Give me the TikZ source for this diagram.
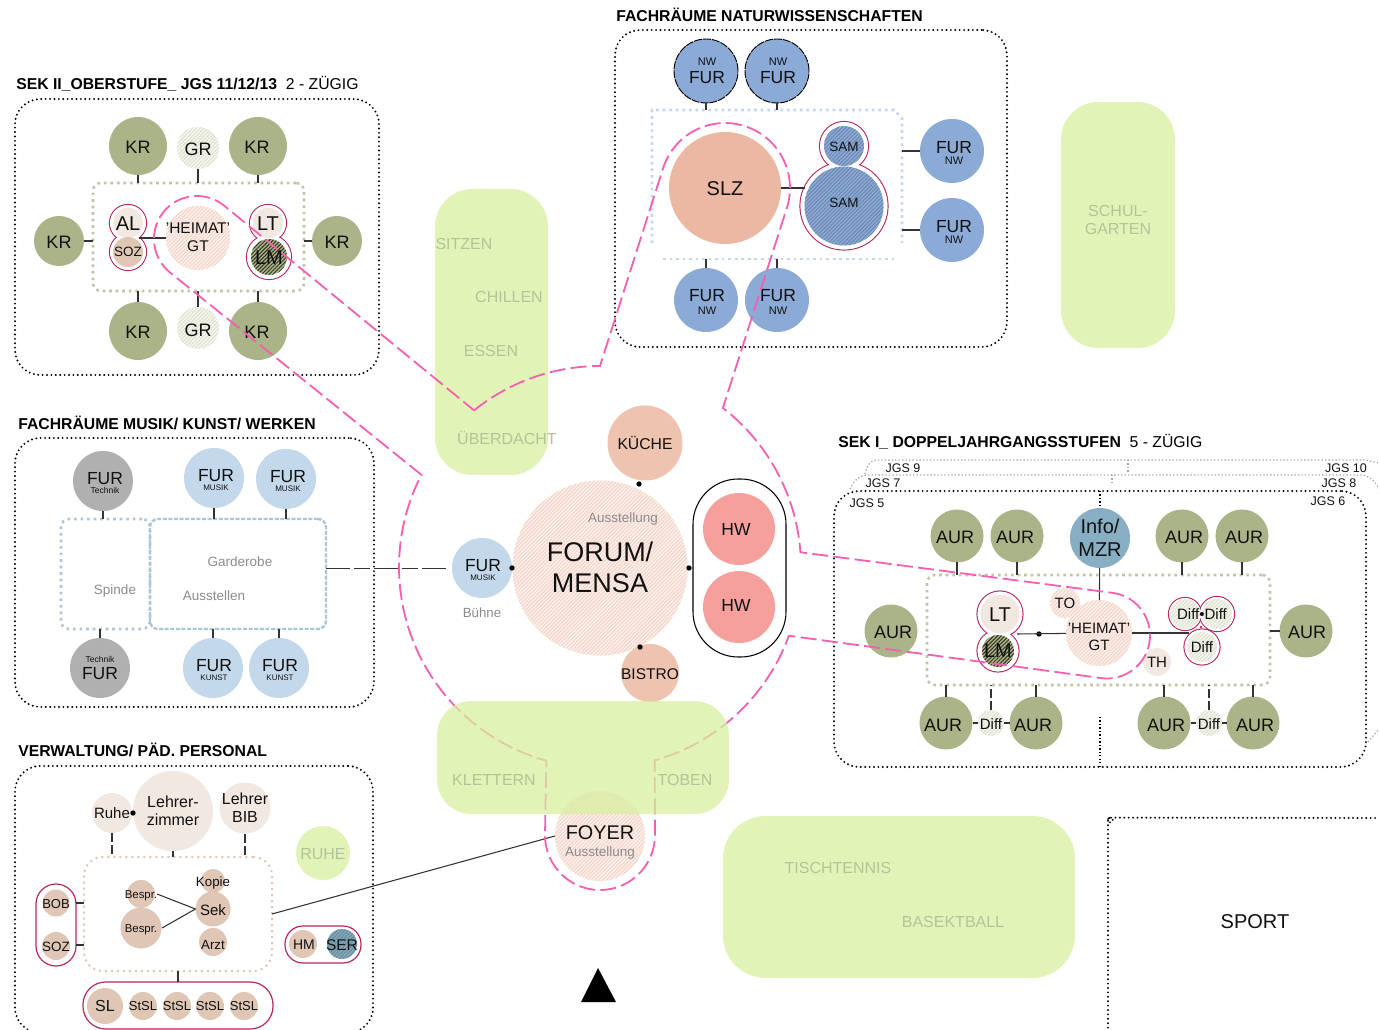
\documentclass[tikz,border=0pt]{standalone}
\usepackage{fontspec}
\setmainfont{Liberation Sans}
\usetikzlibrary{patterns.meta,fit}
\definecolor{olive}{HTML}{ABB388}
\definecolor{inbox}{HTML}{BFC5A5}
\definecolor{nwblue}{HTML}{8BAAD6}
\definecolor{ltblue}{HTML}{C3D8EA}
\definecolor{greyroom}{HTML}{B0B0B0}
\definecolor{salmon}{HTML}{EAB8A3}
\definecolor{kueche}{HTML}{EEC3AF}
\definecolor{hwred}{HTML}{F6A09E}
\definecolor{infoblue}{HTML}{88AEC4}
\definecolor{beige}{HTML}{F1E8E2}
\definecolor{tan}{HTML}{DFC6B5}
\definecolor{grn}{HTML}{E2F3B8}
\definecolor{grnb}{HTML}{D8EFA0}
\definecolor{grntxt}{HTML}{B4C49A}
\definecolor{pinkl}{HTML}{F45FB0}
\definecolor{crim}{HTML}{B8285F}
\definecolor{dottxt}{HTML}{8C8C8C}
\definecolor{ink}{HTML}{111111}
\definecolor{hfa}{HTML}{FBF0EB}\definecolor{hfb}{HTML}{F4D3C6}
\definecolor{hga}{HTML}{F5F6EE}\definecolor{hgb}{HTML}{DDE1CE}
\definecolor{hla}{HTML}{ABB388}\definecolor{hlb}{HTML}{2E3320}
\definecolor{hsa}{HTML}{8BAAD6}\definecolor{hsb}{HTML}{6D88AF}
\definecolor{hra}{HTML}{85A8B8}\definecolor{hrb}{HTML}{6A8C9E}
\definecolor{nwdot}{HTML}{C5D5F5}
\newcommand{\fz}[1]{\pgfmathsetlengthmacro\fzs{#1*0.75pt}\pgfmathsetlengthmacro\fzb{#1*0.75pt*1.15}\fontsize{\fzs}{\fzb}\selectfont}
% room: name,x,y,r,style,tx,ty,size,text
\newcommand{\R}[9]{%
  \node[roomc,#5,minimum size=#4*1.5pt] (#1) at (#2,#3) {};
  \node[lbl,font=\fz{#8}] (#1-t) at (#6,#7) {#9};}
% box: name,x1,y1,x2,y2,style
\newcommand{\bx}[6]{%
  \coordinate (#1-a) at (#2,#3);\coordinate (#1-b) at (#4,#5);
  \node[fit=(#1-a)(#1-b),inner sep=0pt,outer sep=0pt,rectangle,#6] (#1) {};}
% text: name,x,y,size,style,text
\newcommand{\T}[6]{\node[lbl,font=\fz{#4},#5] (#1) at (#2,#3) {#6};}
\newcommand{\halo}[3]{\draw[crim,line width=0.9pt] (#1,#2) circle[radius=#3*0.75pt];}
\newcommand{\hole}[3]{\fill[white] (#1,#2) circle[radius=#3*0.75pt-0.4pt];}
\newcommand{\dotn}[3]{\node[circle,fill=black,inner sep=0pt,minimum size=4pt] (#1) at (#2,#3) {};}
\tikzset{
  roomc/.style={circle,inner sep=0pt,outer sep=0pt},
  lbl/.style={inner sep=0pt,align=center,text=ink},
  hatchlines/.style 2 args={preaction={fill=#1},pattern={Lines[angle=45,distance=2pt,line width=0.75pt]},pattern color=#2},
  hforum/.style={hatchlines={hfa}{hfb}},
  hgr/.style={hatchlines={hga}{hgb}},
  hlm/.style={hatchlines={hla}{hlb}},
  hsam/.style={hatchlines={hsa}{hsb}},
  hser/.style={hatchlines={hra}{hrb}},
  outerb/.style={draw=black,line width=1.6pt,dash pattern=on 0pt off 3.3pt,line cap=round,rounded corners=19pt},
  inb/.style={line width=1.9pt,dash pattern=on 2pt off 2.9pt,rounded corners=6pt},
  conn/.style={draw=black!80,line width=0.8pt},
  longdash/.style={dash pattern=on 7pt off 2pt},
  capsule/.style={draw=crim,line width=0.9pt},
  greentxt/.style={text=grntxt},
  greytxt/.style={text=dottxt},
  titletxt/.style={anchor=west,text=black},
  jgs/.style={draw=black!35,line width=0.9pt,dash pattern=on 1pt off 1.6pt},
  pinkdash/.style={draw=pinkl,line width=1.35pt,dash pattern=on 12pt off 4pt},
}
\begin{document}
\begin{tikzpicture}[x=0.75pt,y=-0.75pt]
\clip (0,0) rectangle (1379,1030);
\fill[white] (0,0) rectangle (1379,1030);
% green areas under everything
\bx{gtall}{435}{189}{548}{475}{fill=grn,rounded corners=28pt}
\bx{gschul}{1061}{102}{1175}{348}{fill=grn,rounded corners=28pt}
\bx{gtisch}{723}{816}{1075}{978}{fill=grn,rounded corners=32pt}
\T{tsitzen}{464}{244}{16}{greentxt}{SITZEN}
\T{tchillen}{509}{297}{16}{greentxt}{CHILLEN}
\T{tessen}{491}{351}{16}{greentxt}{ESSEN}
\T{tueber}{507}{438}{16}{greentxt}{ÜBERDACHT}
\T{tschul}{1118}{220}{16}{greentxt}{SCHUL-\\GARTEN}
\T{ttisch}{838}{868}{16}{greentxt}{TISCHTENNIS}
\T{tbasket}{953}{922}{16}{greentxt}{BASEKTBALL}
% titles
\T{t2}{16}{84}{15.75}{titletxt}{\textbf{SEK II\_OBERSTUFE\_ JGS 11/12/13}\ \ 2 - ZÜGIG}
\T{tnw}{616}{15}{15.75}{titletxt}{\textbf{FACHRÄUME NATURWISSENSCHAFTEN}}
\T{tmus}{18}{423}{15.75}{titletxt}{\textbf{FACHRÄUME MUSIK/ KUNST/ WERKEN}}
\T{tver}{18}{750}{15.75}{titletxt}{\textbf{VERWALTUNG/ PÄD. PERSONAL}}
\T{t1}{838}{442}{15.75}{titletxt}{\textbf{SEK I\_ DOPPELJAHRGANGSSTUFEN}\ \ 5 - ZÜGIG}
% outer boxes
\bx{o2}{15}{99}{379}{375}{outerb}
\bx{onw}{615}{30}{1007}{347}{outerb}
\bx{omus}{15}{438}{374}{707}{outerb}
\bx{over}{15}{766}{373}{1033}{outerb}
\bx{o1}{834}{491}{1366}{767}{outerb}
\draw[outerb] (1108,1032) -- (1108,843) arc[start angle=180,end angle=90,radius=19pt] -- (1377,818);
% JGS fringes
\draw[jgs] (850,489) .. controls (853,481) and (860,475) .. (868,475) -- (1362,475) .. controls (1370,476) and (1376,482) .. (1379,489);
\draw[jgs] (865,474) .. controls (867,466) and (870,460) .. (877,460) -- (1365,460) -- (1379,463);
\draw[jgs] (1128,460) -- (1128,473);
\draw[jgs] (1112,475) -- (1112,482);
\draw[jgs] (1368,742) -- (1378,730);
\draw[draw=black,line width=0.9pt,dash pattern=on 1pt off 1.6pt] (1100,491) -- (1100,506);
\draw[draw=black,line width=0.9pt,dash pattern=on 1pt off 1.6pt] (1100,717) -- (1100,767);
\T{j9}{903}{468}{12.5}{}{JGS 9}
\T{j10}{1346}{468}{12.5}{}{JGS 10}
\T{j7}{883}{483}{12.5}{}{JGS 7}
\T{j8}{1339}{483}{12.5}{}{JGS 8}
\T{j5}{867}{503}{12.5}{}{JGS 5}
\T{j6}{1328}{501}{12.5}{}{JGS 6}
% ---- SEK II
\bx{i2}{93}{183}{304}{291}{inb,draw=inbox}
\R{k1}{138}{146}{29}{fill=olive}{138}{147}{18}{KR}
\R{k2}{258}{146}{29}{fill=olive}{257}{147}{18}{KR}
\R{k3}{59}{241}{25}{fill=olive}{59}{242}{18}{KR}
\R{k4}{337}{241}{25}{fill=olive}{337}{242}{18}{KR}
\R{k5}{138}{331}{29}{fill=olive}{138}{332}{18}{KR}
\R{k6}{258}{331}{29}{fill=olive}{257}{332}{18}{KR}
\R{g1}{198}{148}{21}{hgr}{198}{149}{18}{GR}
\R{g2}{198}{328}{21}{hgr}{198}{330}{18}{GR}
\draw[conn] (k1) -- (k1 |- i2.north);
\draw[conn] (g1) -- (g1 |- i2.north);
\draw[conn] (k2) -- (k2 |- i2.north);
\draw[conn] (k5) -- (k5 |- i2.south);
\draw[conn] (g2) -- (g2 |- i2.south);
\draw[conn] (k6) -- (k6 |- i2.south);
\draw[conn] (k3) -- (k3 -| i2.west);
\draw[conn] (k4) -- (k4 -| i2.east);
\halo{128}{223}{18.5}\halo{128}{252}{18.5}\halo{268}{223}{18.5}\halo{269}{257}{22.5}
\hole{128}{223}{18.5}\hole{128}{252}{18.5}\hole{268}{223}{18.5}\hole{269}{257}{22.5}
\R{al}{128}{223}{15}{fill=beige}{128}{224}{20}{AL}
\R{soz2}{128}{252}{15}{fill=tan}{128}{252}{13.5}{SOZ}
\R{lt2}{268}{223}{15}{fill=beige}{268}{224}{20}{LT}
\R{lm2}{269}{257}{18}{hlm}{269}{258}{20}{LM}
\R{h2}{198}{238}{32}{hforum}{198}{237}{15.5}{'HEIMAT'\\GT}
\draw[conn] (h2) -- (h2 -| soz2.north east);
% ---- NW
\draw[line width=1.9pt,draw=nwdot,dash pattern=on 2pt off 2.9pt] (663,259) -- (895,259);
\draw[line width=1.9pt,draw=nwdot,dash pattern=on 2pt off 2.9pt] (652,243) -- (652,110) -- (894,110) -- (902,118) -- (902,243);
\coordinate (nwT) at (700,110);\coordinate (nwB) at (700,259);\coordinate (nwR) at (902,150);
\R{n1}{706}{71}{32}{fill=nwblue,draw=black,dash pattern=on 6pt off 0.8pt,line width=.7pt}{707}{71}{17.5}{\fz{11}NW\\[-1.5pt]\fz{17.5}FUR}
\R{n2}{777}{71}{32}{fill=nwblue,draw=black,dash pattern=on 6pt off 0.8pt,line width=.7pt}{778}{71}{17.5}{\fz{11}NW\\[-1.5pt]\fz{17.5}FUR}
\R{n3}{706}{300}{32}{fill=nwblue}{707}{302}{17.5}{FUR\\[-6pt]\fz{11}NW}
\R{n4}{777}{300}{32}{fill=nwblue}{778}{302}{17.5}{FUR\\[-6pt]\fz{11}NW}
\R{n5}{952}{151}{32}{fill=nwblue}{954}{153}{17.5}{FUR\\[-6.75pt]\fz{11}NW}
\R{n6}{952}{230}{32}{fill=nwblue}{954}{232}{17.5}{FUR\\[-6.75pt]\fz{11}NW}
\draw[conn] (n1) -- (n1 |- nwT);
\draw[conn] (n2) -- (n2 |- nwT);
\draw[conn] (n3) -- (n3 |- nwB);
\draw[conn] (n4) -- (n4 |- nwB);
\draw[conn] (n5) -- (n5 -| nwR);
\draw[conn] (n6) -- (n6 -| nwR);
\halo{844}{146}{24.5}\halo{844}{206}{44}
\hole{844}{146}{24.5}\hole{844}{206}{44}
\R{slz}{725}{188}{56}{fill=salmon}{725}{189}{20}{SLZ}
\R{sam1}{844}{146}{20}{hsam}{844}{147}{13.5}{SAM}
\R{sam2}{844}{206}{39.5}{hsam}{844}{203}{13.5}{SAM}
\draw[conn] (slz) -- (slz -| sam2.west);
% ---- Musik
\bx{spin}{61}{519}{150}{629}{inb,draw=infoblue!70}
\bx{gard}{150}{519}{326}{629}{inb,draw=infoblue!70,line width=1.8pt,dash pattern=on 3pt off 1.2pt}
\R{mt1}{103}{481}{30}{fill=greyroom}{105}{483}{17.5}{FUR\\[-8.75pt]\fz{8.5}Technik}
\R{mm1}{214}{478}{30}{fill=ltblue}{216}{480}{17.5}{FUR\\[-8pt]\fz{8}MUSIK}
\R{mm2}{286}{479}{30}{fill=ltblue}{288}{481}{17.5}{FUR\\[-8pt]\fz{8}MUSIK}
\R{mt2}{100}{668}{30}{fill=greyroom}{100}{668}{17.5}{\fz{8.5}Technik\\[-3pt]\fz{17.5}FUR}
\R{mk1}{213}{668}{30}{fill=ltblue}{214}{670}{17.5}{FUR\\[-8pt]\fz{8}KUNST}
\R{mk2}{279}{668}{30}{fill=ltblue}{280}{670}{17.5}{FUR\\[-8pt]\fz{8}KUNST}
\draw[conn] (mt1) -- (mt1 |- spin.north);
\draw[conn] (mm1) -- (mm1 |- gard.north);
\draw[conn] (mm2) -- (mm2 |- gard.north);
\draw[conn] (mt2) -- (mt2 |- spin.south);
\draw[conn] (mk1) -- (mk1 |- gard.south);
\draw[conn] (mk2) -- (mk2 |- gard.south);
\T{tgard}{240}{562}{13.5}{greytxt}{Garderobe}
\T{taus}{214}{596}{13.5}{greytxt}{Ausstellen}
\T{tspin}{115}{591}{13.5}{greytxt}{Spinde}
% ---- Verwaltung
\R{gruhe}{323}{853}{27}{fill=grn}{323}{854}{16}{\textcolor{grntxt}{RUHE}}
\bx{adm}{84}{857}{272}{971}{inb,draw=tan,rounded corners=14pt,line width=1.5pt,dash pattern=on 1.5pt off 3pt}
\R{lruhe}{112}{813}{20}{fill=beige}{112}{813}{15}{Ruhe}
\R{lz}{173}{811}{40}{fill=beige}{173}{811}{16}{Lehrer-\\zimmer}
\R{lbib}{245}{808}{25.5}{fill=beige}{245}{808}{16}{Lehrer\\BIB}
\dotn{dr}{133}{813}
\draw[conn,longdash] (lruhe) -- (lruhe |- adm.north);
\draw[conn] (lz) -- (lz |- adm.north);
\draw[conn,longdash] (lbib) -- (lbib |- adm.north);
\R{bs1}{141}{894}{14}{fill=tan}{141}{896}{11.4}{Bespr.}
\R{bs2}{141}{928}{20.5}{fill=tan}{141}{930}{11.4}{Bespr.}
\R{kop}{213}{881}{12}{fill=tan}{213}{883}{13.3}{Kopie}
\R{sek}{213}{909}{17.5}{fill=tan}{213}{910}{15}{Sek}
\R{arzt}{213}{942}{14}{fill=tan}{213}{945}{13.3}{Arzt}
\coordinate (bs1e) at (157,894);\coordinate (bs2e) at (162,928);
\draw[conn] (sek.west) -- (bs1e);
\draw[conn] (sek.west) -- (bs2e);
\bx{cap1}{36}{884}{76}{966}{capsule,rounded corners=15pt}
\bx{cap2}{285}{926}{361}{963}{capsule,rounded corners=13.5pt}
\bx{cap3}{83}{982}{273}{1029}{capsule,rounded corners=17pt}
\R{bob}{56}{903}{13.5}{fill=tan}{56}{904}{13}{BOB}
\R{soz3}{56}{946}{14}{fill=tan}{56}{947}{13.5}{SOZ}
\R{hm}{303}{944}{14}{fill=tan}{304}{945}{14}{HM}
\R{ser}{342}{944}{15}{hser}{342}{945}{15.5}{SER}
\R{sl}{105}{1006}{18}{fill=tan}{105}{1006}{16}{SL}
\R{st1}{143}{1006}{14}{fill=tan}{143}{1006}{13}{StSL}
\R{st2}{177}{1006}{14}{fill=tan}{177}{1006}{13}{StSL}
\R{st3}{210}{1006}{14}{fill=tan}{210}{1006}{13}{StSL}
\R{st4}{244}{1006}{14}{fill=tan}{244}{1006}{13}{StSL}
\coordinate (b1e) at (76,903);\coordinate (b2e) at (76,945);\coordinate (b1a) at (84,903);\coordinate (b2a) at (84,945);
\draw[conn] (b1e) -- (b1a);
\draw[conn] (b2e) -- (b2a);
\draw[conn] (adm.south) -- (adm.south |- cap3.north);
% ---- SEK I
\bx{i1}{927}{575}{1270}{685}{inb,draw=inbox}
\R{a1}{957}{536}{26.5}{fill=olive}{955}{537}{18}{AUR}
\R{a2}{1017}{536}{26.5}{fill=olive}{1015}{537}{18}{AUR}
\R{a3}{1182}{536}{26.5}{fill=olive}{1184}{537}{18}{AUR}
\R{a4}{1242}{536}{26.5}{fill=olive}{1244}{537}{18}{AUR}
\R{a5}{891}{631}{26.5}{fill=olive}{893}{632}{18}{AUR}
\R{a6}{1306}{631}{26.5}{fill=olive}{1307}{632}{18}{AUR}
\R{a7}{946}{723}{26.5}{fill=olive}{943}{725}{18}{AUR}
\R{a8}{1036}{723}{26.5}{fill=olive}{1033}{725}{18}{AUR}
\R{a9}{1164}{723}{26.5}{fill=olive}{1166}{725}{18}{AUR}
\R{a10}{1253}{723}{26.5}{fill=olive}{1255}{725}{18}{AUR}
\R{dl}{991}{723}{13}{hgr}{991}{724}{15}{Diff}
\R{dr2}{1209}{723}{13}{hgr}{1209}{724}{15}{Diff}
\R{info}{1100}{538}{30}{fill=infoblue}{1100}{538}{20}{Info/\\MZR}
\draw[conn] (a1) -- (a1 |- i1.north);
\draw[conn] (a2) -- (a2 |- i1.north);
\draw[conn] (a3) -- (a3 |- i1.north);
\draw[conn] (a4) -- (a4 |- i1.north);
\draw[conn] (a6) -- (a6 -| i1.east);
\draw[conn] (a7) -- (a7 |- i1.south);
\draw[conn] (a8) -- (a8 |- i1.south);
\draw[conn] (a9) -- (a9 |- i1.south);
\draw[conn] (a10) -- (a10 |- i1.south);
\draw[conn,longdash] (dl) -- (dl |- i1.south);
\draw[conn,longdash] (dr2) -- (dr2 |- i1.south);
\draw[conn] (a7) -- (dl);
\draw[conn] (dl) -- (a8);
\draw[conn] (a9) -- (dr2);
\draw[conn] (dr2) -- (a10);
\halo{1000}{614}{23}\halo{998}{651}{21}
\halo{1185}{614}{16.5}\halo{1217}{614}{17.5}\halo{1202}{647}{18}
\hole{1000}{614}{23}\hole{998}{651}{21}
\hole{1185}{614}{16.5}\hole{1217}{614}{17.5}\hole{1202}{647}{18}
\R{to}{1065}{603}{15}{hforum}{1065}{603}{15}{TO}
\R{th}{1157}{662}{14}{fill=beige}{1157}{662}{15}{TH}
\R{lt1}{1000}{614}{19.5}{fill=beige}{1000}{615}{20}{LT}
\R{lm1}{998}{651}{16}{hlm}{998}{651}{20}{LM}
\R{d1}{1185}{614}{15}{hgr}{1188}{614}{1}{}
\R{d2}{1217}{614}{15}{hgr}{1216}{614}{1}{}
\R{d3}{1202}{647}{15}{hgr}{1202}{647}{15}{Diff}
\T{dd}{1202}{614}{15}{}{Diff•Diff}
\R{h1}{1099}{633}{33}{hforum}{1099}{637}{15}{'HEIMAT'\\GT}
\coordinate (ltj) at (1017,634);\coordinate (dj) at (1189,633);
\dotn{dh}{1039}{634}
\draw[conn] (ltj) -- (h1);
\draw[conn] (h1) -- (dj);
\draw[conn] (info) -- (h1);
\fill[crim] (1201,627) circle[radius=1pt];
% ---- centre
\R{forum}{600}{568}{87.5}{hforum}{600}{567}{27}{FORUM/\\MENSA}
\T{taus2}{623}{519}{13.5}{greytxt}{Ausstellung}
\R{kue}{645}{443}{37.5}{fill=kueche}{645}{443}{15.7}{KÜCHE}
\R{fm}{482}{568}{30}{fill=ltblue}{483}{570}{17.5}{FUR\\[-8pt]\fz{8}MUSIK}
\T{tbueh}{482}{613}{13.3}{greytxt}{Bühne}
\bx{hwcap}{693}{479}{786}{657}{draw=black,line width=.8pt,rounded corners=34pt}
\R{hw1}{739}{529}{36}{fill=hwred}{736}{529}{17.5}{HW}
\R{hw2}{739}{607}{36}{fill=hwred}{736}{605}{17.5}{HW}
\R{bis}{650}{673}{29}{fill=kueche}{650}{674}{15.5}{BISTRO}
\dotn{d1b}{639}{484}
\dotn{d2b}{512}{568}
\dotn{d3b}{689}{568}
\dotn{d4b}{640}{647}
\draw[conn,line width=.7pt,shorten >=2.5pt,dash pattern=on 18pt off 3pt on 12pt off 3pt] (gard.east |- fm) -- (fm);
\node[roomc,hforum,minimum size=90*0.75pt] (foyer) at (600,836) {};
\draw[conn] (adm.east) -- (foyer.west);
\draw[pinkdash]
 plot[domain=128.8:90,samples=20] ({600+201*cos(\x)},{567-201*sin(\x)})
 -- plot[domain=163:-17,samples=40] ({725+65*cos(\x)},{188-65*sin(\x)})
 -- plot[domain=52.3:4.2,samples=30] ({600+201*cos(\x)},{567-201*sin(\x)})
 -- plot[domain=82:-98,samples=40] ({1107+43*cos(\x)},{635.5-43*sin(\x)})
 -- plot[domain=-20:-74.2,samples=30] ({600+201*cos(\x)},{567-201*sin(\x)})
 -- plot[domain=0:-180,samples=40] ({600+55*cos(\x)},{835-55*sin(\x)})
 -- plot[domain=254.5:152.7,samples=40] ({600+201*cos(\x)},{567-201*sin(\x)})
 -- plot[domain=230.7:50.7,samples=40] ({197+43*cos(\x)},{239-43*sin(\x)})
 -- cycle;
\bx{gklet}{437}{701}{729}{814}{fill=grnb,fill opacity=.75,rounded corners=26pt}
\T{tklet}{494}{780}{16}{greentxt}{KLETTERN}
\T{ttob}{685}{780}{16}{greentxt}{TOBEN}
\T{tfoy}{600}{833}{19.8}{}{FOYER}
\T{tfoy2}{600}{853}{13.5}{greytxt}{Ausstellung}
\T{tsport}{1255}{922}{20}{}{SPORT}
\coordinate (tri1) at (598,968);\coordinate (tri2) at (616,1002);\coordinate (tri3) at (581,1002);
\fill[black] (tri1) -- (tri2) -- (tri3) -- cycle;
\end{tikzpicture}
\end{document}
